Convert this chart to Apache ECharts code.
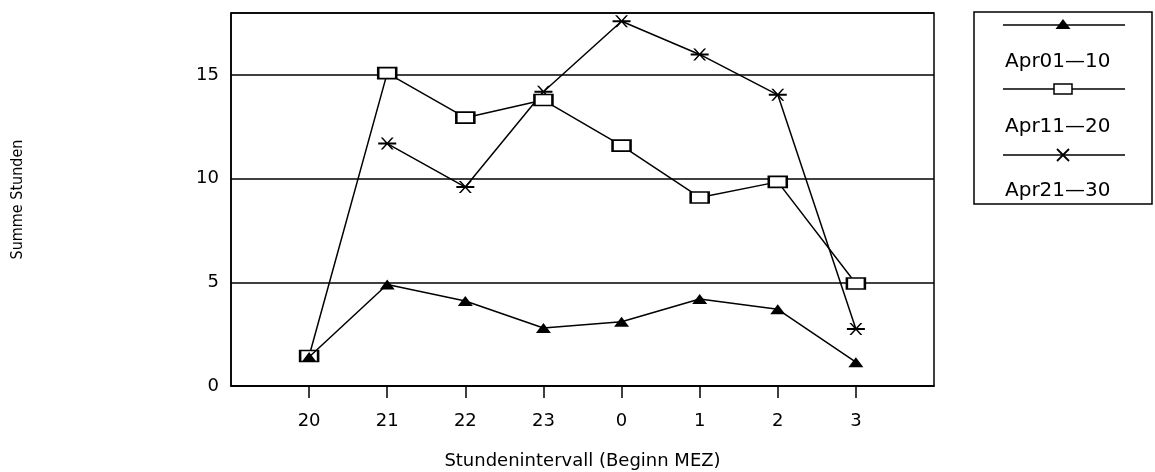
<!DOCTYPE html>
<html>
<head>
<meta charset="utf-8">
<script src="https://cdn.jsdelivr.net/npm/echarts@6/dist/echarts.min.js"></script>
<style>
html,body{margin:0;padding:0;background:#fff;}
#chart{width:1155px;height:472px;}
</style>
</head>
<body>
<div id="chart"></div>
<script>
// ---- data ----
var hourLabels = ['20', '21', '22', '23', '0', '1', '2', '3'];
var seriesNames = ['Apr01—10', 'Apr11—20', 'Apr21—30'];
var apr01_10 = [1.4, 4.9, 4.1, 2.8, 3.1, 4.2, 3.7, 1.15];
var apr11_20 = [1.45, 15.1, 12.95, 13.8, 11.6, 9.1, 9.85, 4.95];
var apr21_30 = [null, 11.7, 9.6, 14.2, 17.6, 16.0, 14.05, 2.75];
var yTicks = [0, 5, 10, 15];

var asteriskPath = 'path://M0 5 L18 5 L18 7 L0 7 Z M2.5 0 L4.5 0 L15.5 12 L13.5 12 Z M13.5 0 L15.5 0 L4.5 12 L2.5 12 Z';
var fontMain = 'DejaVu Sans, sans-serif';

function toPairs(arr) {
  var out = [];
  for (var i = 0; i < arr.length; i++) {
    if (arr[i] !== null) out.push([i + 1, arr[i]]);
  }
  return out;
}
var xPositions = hourLabels.map(function (_, i) { return i + 1; });

var chart = echarts.init(document.getElementById('chart'), null, {renderer: 'canvas'});

var symbolDefs = [
  {symbol: 'triangle', size: [15, 10], color: '#000', border: 0},
  {symbol: 'emptyRect', size: [18, 11], color: '#000', border: 1.5},
  {symbol: asteriskPath, size: [18, 12], color: '#000', border: 0}
];
var datasets = [apr01_10, apr11_20, apr21_30];

var series = datasets.map(function (d, k) {
  return {
    name: seriesNames[k],
    type: 'line',
    data: toPairs(d),
    symbol: symbolDefs[k].symbol,
    symbolSize: symbolDefs[k].size,
    showAllSymbol: true,
    lineStyle: {color: '#000', width: 1.5},
    itemStyle: {color: '#000', borderColor: '#000', borderWidth: symbolDefs[k].border},
    z: 3 - k,
    silent: true,
    animation: false
  };
});

// legend drawn as graphic (line with marker above each label)
var legendGraphics = [
  {type: 'rect', shape: {x: 974, y: 12, width: 178, height: 192}, style: {fill: '#fff', stroke: '#000', lineWidth: 1.5}}
];
var lineYs = [25, 89, 155];
var textYs = [62, 127, 191];
lineYs.forEach(function (ly, k) {
  legendGraphics.push({type: 'line', shape: {x1: 1003, y1: ly, x2: 1125, y2: ly}, style: {stroke: '#000', lineWidth: 1.5}});
  legendGraphics.push({type: 'text', style: {text: seriesNames[k], x: 1005, y: textYs[k], font: '20px ' + fontMain, fill: '#000', verticalAlign: 'middle', textAlign: 'left'}});
});
legendGraphics.push({type: 'polygon', shape: {points: [[1063, 19], [1055.5, 29], [1070.5, 29]]}, style: {fill: '#000'}});
legendGraphics.push({type: 'rect', shape: {x: 1054, y: 84, width: 18, height: 10}, style: {fill: '#fff', stroke: '#000', lineWidth: 1.5}});
legendGraphics.push({type: 'line', shape: {x1: 1057, y1: 149, x2: 1069, y2: 161}, style: {stroke: '#000', lineWidth: 1.8}});
legendGraphics.push({type: 'line', shape: {x1: 1069, y1: 149, x2: 1057, y2: 161}, style: {stroke: '#000', lineWidth: 1.8}});

chart.setOption({
  backgroundColor: '#fff',
  animation: false,
  grid: {left: 231, right: 221, top: 13, bottom: 86, show: true, borderColor: '#000', borderWidth: 1.5, containLabel: false, outerBoundsMode: 'none'},
  xAxis: {
    type: 'value',
    min: 0,
    max: 9,
    interval: 1,
    name: 'Stundenintervall (Beginn MEZ)',
    nameLocation: 'middle',
    nameGap: 66,
    nameTextStyle: {fontFamily: fontMain, fontSize: 18, color: '#000'},
    axisLine: {show: true, onZero: false, lineStyle: {color: '#000', width: 1.5}},
    axisTick: {show: true, inside: false, length: 12, customValues: xPositions, lineStyle: {color: '#000', width: 1.5}},
    axisLabel: {
      customValues: xPositions,
      margin: 26,
      fontFamily: fontMain,
      fontSize: 18,
      color: '#000',
      formatter: function (v) { return hourLabels[Math.round(v) - 1] || ''; }
    },
    splitLine: {show: false}
  },
  yAxis: {
    type: 'value',
    min: 0,
    max: 18,
    interval: 5,
    name: 'Summe Stunden',
    nameLocation: 'middle',
    nameRotate: 90,
    nameGap: 205,
    nameTextStyle: {fontFamily: 'DejaVu Sans Condensed, Liberation Sans Narrow, sans-serif', fontSize: 16, color: '#000'},
    axisLine: {show: true, lineStyle: {color: '#000', width: 1.5}},
    axisTick: {show: false},
    axisLabel: {customValues: yTicks, margin: 12, fontFamily: fontMain, fontSize: 18, color: '#000'},
    splitLine: {show: true, lineStyle: {color: '#000', width: 1.5, type: 'solid'}}
  },
  series: series,
  graphic: legendGraphics
});
</script>
</body>
</html>
